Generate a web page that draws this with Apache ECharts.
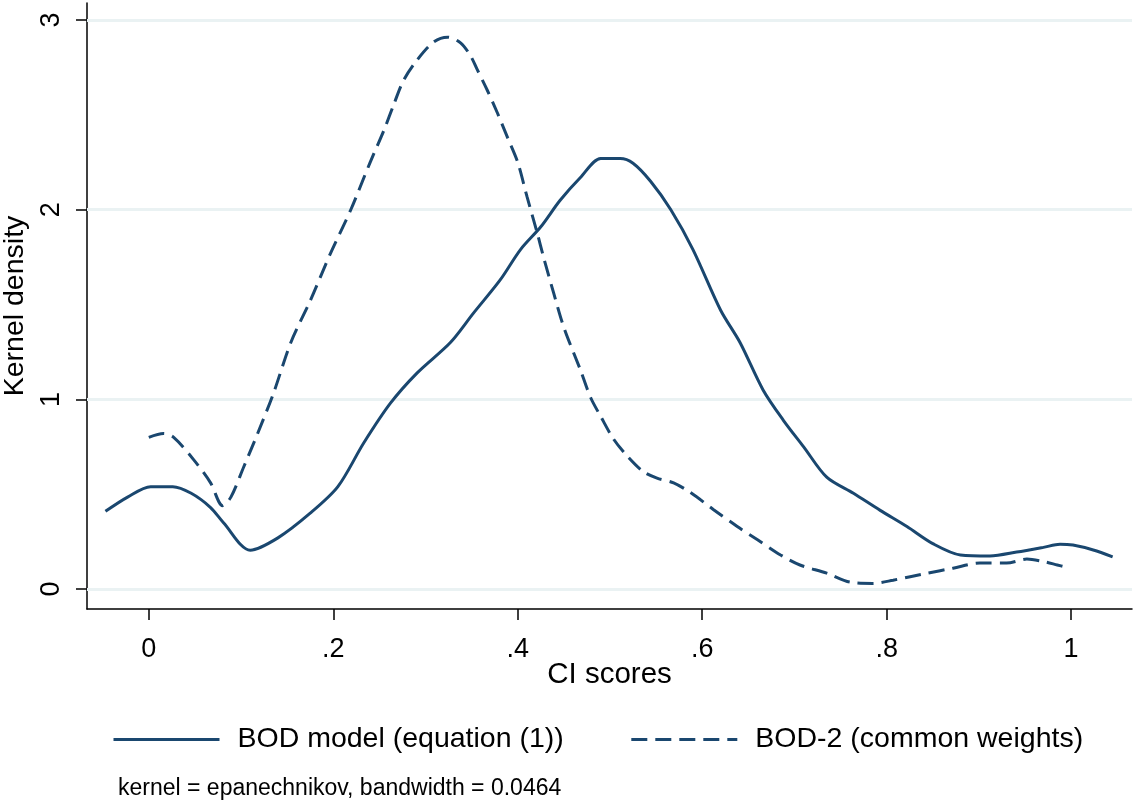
<!DOCTYPE html>
<html lang="en">
  <head>
    <meta charset="utf-8" />
    <title>Kernel density of CI scores</title>
    <script src="https://cdn.jsdelivr.net/npm/echarts@6/dist/echarts.min.js"></script>
  </head>
  <style>
    * {
      margin: 0;
      padding: 0;
    }

    body {
      width: 1135px;
      height: 803px;
      background: #fff;
    }

    #main {
      width: 1135px;
      height: 803px;
    }
  </style>
  <body>
    <div id="main"></div>
    <script>
      // values
      const seriesNames = ["BOD model (equation (1))", "BOD-2 (common weights)"];

      const bodX = [-0.047, -0.023, 0.002, 0.026, 0.046, 0.067, 0.081, 0.11, 0.14, 0.175,
        0.205, 0.233, 0.262, 0.291, 0.327, 0.352, 0.381, 0.403, 0.425, 0.446,
        0.468, 0.49, 0.511, 0.525, 0.544, 0.566, 0.59, 0.62, 0.641, 0.666,
        0.688, 0.71, 0.735, 0.764, 0.793, 0.822, 0.85, 0.88, 0.912, 0.941,
        0.97, 0.988, 1.002, 1.024, 1.045];
      const bodY = [0.41, 0.485, 0.54, 0.54, 0.505, 0.43, 0.35, 0.205, 0.27, 0.40,
        0.54, 0.77, 0.98, 1.14, 1.30, 1.455, 1.63, 1.79, 1.91, 2.05,
        2.17, 2.27, 2.27, 2.245, 2.15, 2.0, 1.79, 1.47, 1.30, 1.05,
        0.89, 0.75, 0.59, 0.505, 0.415, 0.33, 0.24, 0.18, 0.175, 0.195,
        0.22, 0.237, 0.232, 0.206, 0.17];

      const bod2X = [0.0, 0.016, 0.027, 0.049, 0.067, 0.08, 0.089, 0.103, 0.118, 0.135,
        0.154, 0.175, 0.197, 0.219, 0.24, 0.255, 0.266, 0.276, 0.291, 0.309,
        0.324, 0.338, 0.349, 0.356, 0.367, 0.378, 0.389, 0.4, 0.41, 0.421,
        0.428, 0.439, 0.45, 0.468, 0.479, 0.49, 0.504, 0.519, 0.536, 0.551,
        0.569, 0.587, 0.612, 0.638, 0.66, 0.685, 0.706, 0.735, 0.76, 0.785,
        0.807, 0.844, 0.872, 0.901, 0.93, 0.952, 0.97, 0.985, 0.994];
      const bod2Y = [0.80, 0.82, 0.80, 0.68, 0.56, 0.44, 0.485, 0.645, 0.82, 1.03,
        1.30, 1.52, 1.77, 2.0, 2.25, 2.42, 2.56, 2.68, 2.79, 2.885,
        2.91, 2.88, 2.81, 2.74, 2.63, 2.51, 2.38, 2.25, 2.07, 1.88,
        1.75, 1.56, 1.38, 1.155, 1.01, 0.91, 0.79, 0.70, 0.62, 0.585,
        0.56, 0.51, 0.42, 0.33, 0.26, 0.18, 0.127, 0.084, 0.037, 0.03,
        0.047, 0.084, 0.11, 0.137, 0.137, 0.158, 0.145, 0.127, 0.116];

      const xTicks = [0, 0.2, 0.4, 0.6, 0.8, 1];
      const yTicks = [0, 1, 2, 3];
      const noteText = "kernel = epanechnikov, bandwidth = 0.0464";

      const lineColor = "#1a476f";
      const font = "Liberation Sans, Arial, sans-serif";

      function pairs(xs, ys) {
        return xs.map((x, i) => [x, ys[i]]);
      }

      function tickLabel(v) {
        // Stata style: drop the leading zero
        if (v === 0 || v === 1) return String(v);
        return String(v).replace(/^0/, "");
      }

      const chart = echarts.init(document.getElementById("main"), null, { renderer: "canvas" });

      const option = {
        backgroundColor: "#fff",
        animation: false,
        textStyle: { fontFamily: font },
        title: {
          text: noteText,
          left: 113,
          top: 772,
          textStyle: { fontSize: 23, fontWeight: "normal", color: "#000", fontFamily: font },
        },
        legend: {
          left: 107,
          top: 720,
          itemWidth: 106,
          itemHeight: 14,
          itemGap: 66,
          itemStyle: { opacity: 0 },
          lineStyle: { width: 3 },
          textStyle: {
            fontSize: 28.5,
            color: "#000",
            fontFamily: font,
            padding: [0, 0, 0, 13],
          },
          data: seriesNames,
        },
        grid: {
          left: 87,
          right: 3,
          top: 3,
          bottom: 194,
          containLabel: false,
          outerBoundsMode: "none",
        },
        xAxis: {
          type: "value",
          min: -0.067,
          max: 1.066,
          name: "CI scores",
          nameLocation: "middle",
          nameGap: 51,
          nameMoveOverlap: false,
          nameTextStyle: { fontSize: 29.5, color: "#000", fontFamily: font },
          axisLine: { onZero: false, lineStyle: { color: "#000", width: 1.5 } },
          axisTick: { show: true, length: 11, customValues: xTicks, lineStyle: { color: "#000", width: 1.5 } },
          axisLabel: {
            customValues: xTicks,
            fontSize: 27,
            color: "#000",
            margin: 27,
            formatter: tickLabel,
          },
          splitLine: { show: false },
        },
        yAxis: {
          type: "value",
          min: -0.105,
          max: 3.09,
          name: "Kernel density",
          nameLocation: "middle",
          nameGap: 50,
          nameTextStyle: { fontSize: 28.5, color: "#000", fontFamily: font },
          axisLine: { show: true, onZero: false, lineStyle: { color: "#000", width: 1.5 } },
          axisTick: { show: true, length: 11, customValues: yTicks, lineStyle: { color: "#000", width: 1.5 } },
          axisLabel: {
            customValues: yTicks,
            fontSize: 27,
            color: "#000",
            rotate: 90,
            margin: 22,
          },
          splitLine: { show: false },
        },
        series: [
          {
            name: seriesNames[0],
            type: "line",
            data: pairs(bodX, bodY),
            symbol: "none",
            smooth: 0.3,
            lineStyle: { color: lineColor, width: 3 },
            itemStyle: { color: lineColor },
            markLine: {
              silent: true,
              symbol: "none",
              label: { show: false },
              lineStyle: { color: "#eaf2f3", width: 3, type: "solid" },
              data: yTicks.map((v) => ({ yAxis: v })),
              z: 1,
            },
            z: 3,
          },
          {
            name: seriesNames[1],
            type: "line",
            data: pairs(bod2X, bod2Y),
            symbol: "none",
            smooth: 0.3,
            lineStyle: { color: lineColor, width: 3, type: [16, 8] },
            itemStyle: { color: lineColor },
            z: 3,
          },
        ],
      };

      chart.setOption(option);

      window.addEventListener("resize", () => {
        chart.resize();
      });
    </script>
  </body>
</html>
